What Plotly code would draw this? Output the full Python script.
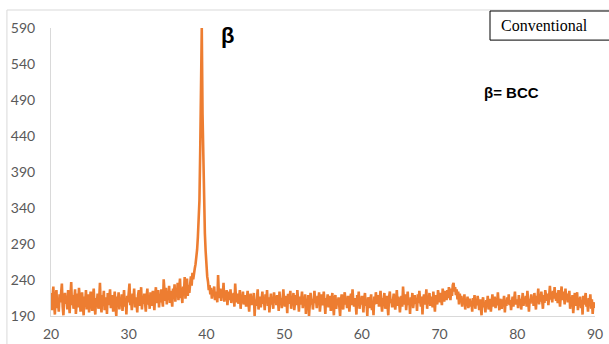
import numpy as np
import plotly.graph_objects as go

# XRD scan: 2-theta from 20 to 90 degrees in 0.1 degree steps
theta_start = 20.0
theta_step = 0.1

# Intensity, one row per degree (10 readings each)
intensity = [
    222, 198, 215, 231, 205, 192, 218, 226, 201, 212,   # 20
    196, 220, 209, 225, 235, 203, 191, 214, 222, 207,   # 21
    218, 199, 226, 210, 194, 216, 237, 205, 219, 200,   # 22
    212, 227, 193, 208, 221, 202, 229, 215, 196, 210,   # 23
    223, 204, 191, 217, 209, 226, 199, 213, 220, 195,   # 24
    207, 224, 212, 197, 218, 228, 203, 192, 215, 209,   # 25
    221, 200, 214, 236, 206, 195, 219, 211, 225, 198,   # 26
    210, 216, 193, 222, 205, 213, 227, 201, 208, 219,   # 27
    196, 212, 224, 204, 190, 217, 209, 223, 199, 214,   # 28
    206, 220, 197, 211, 226, 203, 215, 192, 218, 209,   # 29
    224, 235, 205, 213, 198, 221, 210, 228, 202, 216,   # 30
    208, 195, 219, 226, 204, 212, 230, 199, 215, 207,   # 31
    221, 210, 196, 217, 228, 206, 214, 200, 223, 211,   # 32
    204, 225, 213, 198, 219, 230, 208, 216, 226, 202,   # 33
    218, 209, 227, 213, 203, 241, 220, 211, 229, 206,   # 34
    222, 214, 232, 208, 225, 217, 203, 228, 219, 234,   # 35
    210, 226, 218, 236, 212, 229, 242, 215, 221, 208,   # 36
    231, 220, 244, 214, 227, 242, 218, 233, 222, 238,   # 37
    245, 232, 250, 241, 252, 256, 262, 270, 282, 300,   # 38
    318, 350, 420, 520, 590, 470, 390, 340, 305, 280,   # 39
    256, 245, 238, 226, 233, 220, 229, 214, 225, 218,   # 40
    231, 212, 224, 219, 209, 247, 221, 215, 228, 211,   # 41
    223, 217, 236, 210, 220, 213, 226, 205, 218, 224,   # 42
    212, 227, 208, 219, 214, 222, 203, 235, 216, 209,   # 43
    221, 207, 215, 226, 200, 218, 211, 224, 206, 213,   # 44
    219, 203, 212, 225, 209, 196, 216, 221, 205, 214,   # 45
    208, 222, 190, 213, 204, 219, 227, 199, 211, 217,   # 46
    202, 215, 224, 207, 213, 198, 220, 210, 226, 204,   # 47
    216, 195, 211, 221, 206, 214, 200, 223, 209, 218,   # 48
    205, 219, 212, 197, 224, 208, 215, 201, 213, 227,   # 49
    210, 203, 218, 212, 194, 221, 207, 216, 225, 200,   # 50
    214, 209, 222, 198, 211, 219, 205, 226, 212, 196,   # 51
    217, 206, 213, 224, 201, 215, 209, 220, 193, 211,   # 52
    203, 219, 190, 212, 222, 206, 214, 199, 217, 225,   # 53
    208, 213, 201, 218, 210, 223, 196, 212, 220, 205,   # 54
    211, 224, 206, 193, 215, 209, 220, 202, 213, 218,   # 55
    197, 210, 222, 205, 191, 214, 219, 200, 212, 207,   # 56
    216, 203, 190, 211, 220, 208, 199, 215, 223, 206,   # 57
    212, 201, 218, 209, 196, 214, 221, 205, 227, 210,   # 58
    203, 215, 208, 192, 219, 211, 224, 200, 213, 206,   # 59
    218, 209, 195, 214, 222, 204, 211, 190, 216, 208,   # 60
    201, 213, 220, 198, 210, 191, 217, 206, 223, 212,   # 61
    207, 219, 203, 214, 225, 209, 196, 215, 211, 222,   # 62
    200, 212, 218, 205, 191, 216, 224, 208, 213, 202,   # 63
    215, 221, 207, 199, 212, 226, 204, 217, 209, 195,   # 64
    210, 218, 203, 231, 214, 206, 220, 198, 212, 224,   # 65
    205, 213, 193, 216, 209, 222, 201, 214, 219, 207,   # 66
    212, 197, 220, 208, 225, 211, 203, 217, 192, 214,   # 67
    220, 206, 213, 227, 200, 215, 209, 222, 204, 211,   # 68
    217, 202, 224, 210, 196, 219, 213, 206, 226, 215,   # 69
    209, 222, 214, 205, 228, 217, 210, 225, 219, 212,   # 70
    226, 215, 230, 220, 212, 228, 218, 233, 236, 224,   # 71
    230, 219, 227, 213, 224, 206, 221, 211, 218, 203,   # 72
    215, 208, 220, 199, 212, 206, 217, 201, 210, 214,   # 73
    203, 211, 196, 215, 207, 219, 200, 212, 205, 218,   # 74
    209, 198, 213, 204, 191, 210, 216, 202, 208, 195,   # 75
    212, 205, 218, 199, 209, 214, 196, 207, 220, 203,   # 76
    210, 217, 201, 212, 205, 223, 208, 198, 214, 206,   # 77
    200, 213, 209, 218, 195, 211, 204, 216, 207, 220,   # 78
    205, 212, 198, 209, 217, 203, 214, 224, 206, 211,   # 79
    213, 201, 219, 207, 214, 199, 210, 222, 204, 215,   # 80
    208, 218, 203, 225, 212, 196, 214, 207, 220, 210,   # 81
    216, 204, 222, 211, 199, 218, 213, 228, 206, 217,   # 82
    210, 224, 214, 200, 219, 208, 226, 215, 211, 221,   # 83
    205, 218, 232, 213, 220, 209, 225, 214, 230, 217,   # 84
    211, 222, 208, 226, 216, 203, 219, 231, 212, 224,   # 85
    218, 206, 228, 213, 221, 209, 216, 225, 200, 214,   # 86
    207, 219, 194, 215, 222, 204, 211, 223, 198, 213,   # 87
    209, 217, 201, 212, 192, 218, 206, 214, 222, 203,   # 88
    210, 196, 215, 208, 220, 200, 213, 193, 209, 205,   # 89
    201,                                                # 90
]

two_theta = np.round(theta_start + theta_step * np.arange(len(intensity)), 1)

x_ticks = [20, 30, 40, 50, 60, 70, 80, 90]
y_ticks = [190, 240, 290, 340, 390, 440, 490, 540, 590]

line_color = "#ED7D31"
tick_color = "#595959"
axis_color = "#D9D9D9"
label_font = "Lato, 'Open Sans', sans-serif"
bold_font = "'Liberation Sans', Arial, sans-serif"

fig = go.Figure()
fig.add_trace(go.Scatter(
    x=two_theta, y=intensity, mode="lines",
    line=dict(color=line_color, width=2.6),
    hoverinfo="skip", showlegend=False,
))

fig.update_layout(
    width=609, height=344,
    margin=dict(l=51, r=14, t=28, b=28),
    paper_bgcolor="white", plot_bgcolor="white",
    font=dict(family=label_font, size=14, color=tick_color),
    xaxis=dict(
        range=[20, 90], tickvals=x_ticks, showgrid=False, zeroline=False,
        showline=True, linecolor=axis_color, linewidth=1, automargin=False,
        ticks="", ticklabelstandoff=5, tickfont=dict(size=14, color=tick_color),
    ),
    yaxis=dict(
        range=[190, 590], tickvals=y_ticks, showgrid=False, zeroline=False,
        showline=True, linecolor=axis_color, linewidth=1, automargin=False,
        ticks="", ticklabelstandoff=12, tickfont=dict(size=14, color=tick_color),
    ),
    shapes=[
        # chart frame
        dict(type="rect", xref="paper", yref="paper",
             x0=-0.081, x1=1.2, y0=-0.3, y1=1.0625,
             line=dict(color=axis_color, width=1), layer="below"),
        # legend-style box
        dict(type="rect", xref="paper", yref="paper",
             x0=0.807, x1=1.06, y0=0.958, y1=1.059,
             line=dict(color="black", width=1), fillcolor="white"),
    ],
    annotations=[
        dict(text="Conventional", xref="paper", yref="paper",
             x=0.908, y=1.007, xanchor="center", yanchor="middle",
             showarrow=False,
             font=dict(family="'Liberation Serif', 'Times New Roman', serif",
                       size=16, color="black")),
        dict(text="<b>β</b>", xref="x", yref="y", x=42.65, y=579,
             xanchor="center", yanchor="middle", showarrow=False,
             font=dict(family=bold_font, size=22, color="black")),
        dict(text="<b>β= BCC</b>", xref="x", yref="y", x=79.3, y=500,
             xanchor="center", yanchor="middle", showarrow=False,
             font=dict(family=bold_font, size=15, color="black")),
    ],
)

fig.write_html("out.html")
